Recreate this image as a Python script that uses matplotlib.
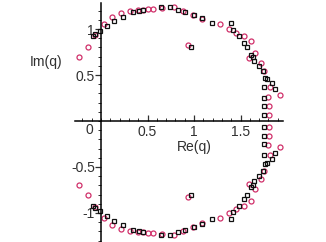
import matplotlib
matplotlib.use("Agg")
import matplotlib.pyplot as plt
from matplotlib.ticker import FixedLocator

# roots, red circles
circle_re = [-0.24, -0.14, -0.06, 0.03, 0.12, 0.22, 0.31, 0.40, 0.45, 0.50,
             0.56, 0.66, 0.78, 0.88, 0.99, 1.09, 1.28, 1.38, 1.45, 1.54,
             1.61, 1.66, 1.59, 1.72, 1.75, 1.82, 1.92, 1.80, 1.81, 1.81, 0.94,
             -0.24, -0.14, -0.06, 0.03, 0.12, 0.22, 0.31, 0.40, 0.45, 0.50,
             0.56, 0.66, 0.78, 0.88, 0.99, 1.09, 1.28, 1.38, 1.45, 1.54,
             1.61, 1.66, 1.59, 1.72, 1.75, 1.82, 1.92, 1.80, 1.81, 1.81, 0.94]
circle_im = [0.70, 0.80, 0.93, 1.05, 1.13, 1.17, 1.20, 1.21, 1.21, 1.22,
             1.22, 1.23, 1.24, 1.20, 1.15, 1.11, 1.05, 1.00, 0.96, 0.92,
             0.87, 0.74, 0.69, 0.63, 0.54, 0.37, 0.28, 0.26, 0.16, 0.065, 0.83,
             -0.70, -0.80, -0.93, -1.05, -1.13, -1.17, -1.20, -1.21, -1.21, -1.22,
             -1.22, -1.23, -1.24, -1.20, -1.15, -1.11, -1.05, -1.00, -0.96, -0.92,
             -0.87, -0.74, -0.69, -0.63, -0.54, -0.37, -0.28, -0.26, -0.16, -0.065, -0.83]

# roots, black squares
square_re = [-0.09, -0.06, -0.01, 0.06, 0.14, 0.24, 0.34, 0.41, 0.45, 0.64,
             0.74, 0.83, 0.90, 1.00, 1.09, 1.19, 1.40, 1.42, 1.48, 1.54,
             1.57, 1.61, 1.63, 1.65, 1.70, 1.74, 1.76, 1.78, 1.84, 1.87,
             1.75, 1.75, 1.75, 1.75, 0.97,
             -0.09, -0.06, -0.01, 0.06, 0.14, 0.24, 0.34, 0.41, 0.45, 0.64,
             0.74, 0.83, 0.90, 1.00, 1.09, 1.19, 1.40, 1.42, 1.48, 1.54,
             1.57, 1.61, 1.63, 1.65, 1.70, 1.74, 1.76, 1.78, 1.84, 1.87,
             1.75, 1.75, 1.75, 1.75, 0.97]
square_im = [0.92, 0.95, 0.98, 1.03, 1.09, 1.13, 1.18, 1.20, 1.21, 1.24,
             1.24, 1.21, 1.19, 1.15, 1.12, 1.07, 1.07, 0.99, 0.92, 0.85,
             0.80, 0.72, 0.70, 0.65, 0.60, 0.54, 0.47, 0.46, 0.41, 0.35,
             0.37, 0.25, 0.16, 0.07, 0.80,
             -0.92, -0.95, -0.98, -1.03, -1.09, -1.13, -1.18, -1.20, -1.21, -1.24,
             -1.24, -1.21, -1.19, -1.15, -1.12, -1.07, -1.07, -0.99, -0.92, -0.85,
             -0.80, -0.72, -0.70, -0.65, -0.60, -0.54, -0.47, -0.46, -0.41, -0.35,
             -0.37, -0.25, -0.16, -0.07, -0.80]

x_ticks = [0.5, 1, 1.5]
x_ticklabels = ["0.5", "1", "1.5"]
y_ticks = [-1, -0.5, 0.5, 1]
y_ticklabels = ["-1", "-0.5", "0.5", "1"]

plt.rcParams['font.family'] = ['Liberation Sans', 'DejaVu Sans']
text_color = '#303030'

fig = plt.figure(figsize=(3.26, 2.42), dpi=100)
ax = fig.add_axes([0, 0, 1, 1])
ax.set_xlim(-101 / 93, 225 / 93)
ax.set_ylim(-121 / 92, 121 / 92)

ax.plot(circle_re, circle_im, 'o', ms=3.6, mfc='none', mec='#d0306a', mew=0.9)
ax.plot(square_re, square_im, 's', ms=3.4, mfc='none', mec='#111111', mew=0.9)

for side in ['top', 'right']:
    ax.spines[side].set_visible(False)
ax.spines['left'].set_position(('data', 0))
ax.spines['bottom'].set_position(('data', 0))
ax.spines['left'].set_bounds(-1.34, 1.28)
ax.spines['bottom'].set_bounds(-0.28, 1.96)
ax.spines['left'].set_linewidth(1.1)
ax.spines['bottom'].set_linewidth(1.1)

# minor ticks only along the drawn axis lines
x_minor = [i / 10 for i in range(-2, 20)]
y_minor = [i / 10 for i in range(-13, 13)]

ax.xaxis.set_major_locator(FixedLocator(x_ticks))
ax.set_xticklabels(x_ticklabels)
ax.xaxis.set_minor_locator(FixedLocator(x_minor))
ax.yaxis.set_major_locator(FixedLocator(y_ticks))
ax.set_yticklabels(y_ticklabels)
ax.yaxis.set_minor_locator(FixedLocator(y_minor))

ax.tick_params(axis='x', which='both', direction='in', colors=text_color,
               labelsize=10, pad=3)
ax.tick_params(axis='y', which='both', direction='out', colors=text_color,
               labelsize=10, pad=0.5)
ax.tick_params(which='major', length=4, width=0.9)
ax.tick_params(which='minor', length=2.2, width=0.7)

ax.text(-0.12, -0.10, "0", fontsize=10, color=text_color, ha='center', va='center')
ax.text(-0.59, 0.64, "Im(q)", fontsize=10, color=text_color, ha='center', va='center')
ax.text(1.0, -0.28, "Re(q)", fontsize=10, color=text_color, ha='center', va='center')

fig.savefig('out.png', dpi=100)
